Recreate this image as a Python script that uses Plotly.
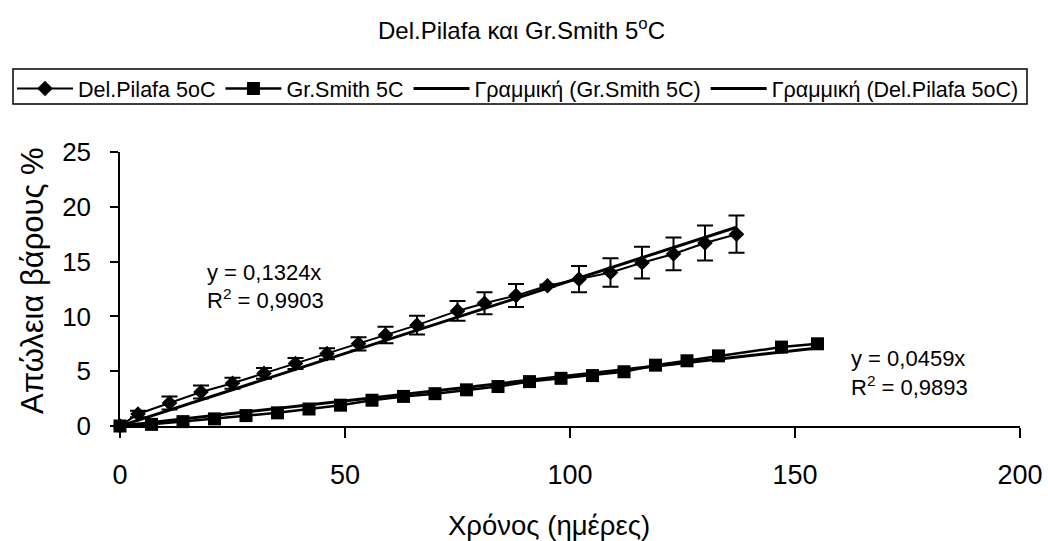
import plotly.graph_objects as go

# Weight loss (%) over storage time (days) at 5 °C
pilafa_days = [0, 4, 11, 18, 25, 32, 39, 46, 53, 59, 66, 75, 81, 88, 95, 102, 109, 116, 123, 130, 137]
pilafa_loss = [0, 1.1, 2.1, 3.1, 3.9, 4.8, 5.7, 6.6, 7.5, 8.3, 9.2, 10.5, 11.2, 11.9, 12.8, 13.4,
               14.0, 14.9, 15.7, 16.7, 17.5]
pilafa_err = [0, 0.3, 0.6, 0.6, 0.5, 0.5, 0.5, 0.5, 0.6, 0.75, 0.85, 0.9, 1.0, 1.05, 0.1, 1.2,
              1.3, 1.45, 1.5, 1.6, 1.7]

smith_days = [0, 7, 14, 21, 28, 35, 42, 49, 56, 63, 70, 77, 84, 91, 98, 105, 112, 119, 126, 133, 147, 155]
smith_loss = [0, 0.15, 0.4, 0.65, 0.95, 1.2, 1.55, 1.9, 2.35, 2.7, 2.95, 3.3, 3.6, 4.05, 4.35, 4.6,
              4.95, 5.55, 5.95, 6.4, 7.2, 7.5]

# Linear trendlines forced through the origin
pilafa_slope, pilafa_r2 = 0.1324, 0.9903
smith_slope, smith_r2 = 0.0459, 0.9893

x_ticks = [0, 50, 100, 150, 200]
y_ticks = [0, 5, 10, 15, 20, 25]

FONT = "Liberation Sans, Arial, sans-serif"
W, H = 1048, 541
L, R, T, B = 120, 28, 152, 115
PW, PH = W - L - R, H - T - B


def px(xp):
    return (xp - L) / PW


def py(yp):
    return (H - B - yp) / PH


def comma(v, nd=4):
    return f"{v:.{nd}f}".replace(".", ",")


fig = go.Figure()

fig.add_trace(go.Scatter(
    x=pilafa_days, y=pilafa_loss, name="Del.Pilafa 5oC", mode="lines+markers",
    line=dict(color="black", width=2),
    marker=dict(symbol="diamond", size=12, color="black"),
    error_y=dict(type="data", array=pilafa_err, visible=True, color="black", thickness=2, width=8),
    cliponaxis=False,
))
fig.add_trace(go.Scatter(
    x=smith_days, y=smith_loss, name="Gr.Smith 5C", mode="lines+markers",
    line=dict(color="black", width=2.5),
    marker=dict(symbol="square", size=13, color="black"),
    cliponaxis=False,
))

smith_fit_x = [0, max(smith_days)]
fig.add_trace(go.Scatter(
    x=smith_fit_x, y=[smith_slope * v for v in smith_fit_x], name="Γραμμική (Gr.Smith 5C)",
    mode="lines", line=dict(color="black", width=3), cliponaxis=False,
))
pilafa_fit_x = [0, max(pilafa_days)]
fig.add_trace(go.Scatter(
    x=pilafa_fit_x, y=[pilafa_slope * v for v in pilafa_fit_x], name="Γραμμική (Del.Pilafa 5oC)",
    mode="lines", line=dict(color="black", width=3), cliponaxis=False,
))

annotations = [
    dict(text="Del.Pilafa και Gr.Smith 5<sup>o</sup>C", x=px(521), y=py(29), xref="paper", yref="paper",
         xanchor="center", yanchor="middle", showarrow=False, font=dict(size=24)),
    dict(text="Απώλεια βάρους %", x=px(32), y=py(281), xref="paper", yref="paper", textangle=-90,
         xanchor="center", yanchor="middle", showarrow=False, font=dict(size=31)),
    dict(text="Χρόνος (ημέρες)", x=px(549), y=py(525), xref="paper", yref="paper",
         xanchor="center", yanchor="middle", showarrow=False, font=dict(size=27.5)),
    dict(text=f"y = {comma(pilafa_slope)}x", x=px(205), y=py(272), xref="paper", yref="paper",
         xanchor="left", yanchor="middle", showarrow=False, font=dict(size=22)),
    dict(text=f"R<sup>2</sup> = {comma(pilafa_r2)}", x=px(205), y=py(299), xref="paper", yref="paper",
         xanchor="left", yanchor="middle", showarrow=False, font=dict(size=22)),
    dict(text=f"y = {comma(smith_slope)}x", x=px(849), y=py(358), xref="paper", yref="paper",
         xanchor="left", yanchor="middle", showarrow=False, font=dict(size=22)),
    dict(text=f"R<sup>2</sup> = {comma(smith_r2)}", x=px(849), y=py(386), xref="paper", yref="paper",
         xanchor="left", yanchor="middle", showarrow=False, font=dict(size=22)),
]

fig.update_layout(
    width=W, height=H,
    margin=dict(l=L, r=R, t=T, b=B, autoexpand=False),
    paper_bgcolor="white", plot_bgcolor="white",
    font=dict(family=FONT, color="black"),
    showlegend=True,
    legend=dict(
        orientation="h", x=px(12), y=py(68), xanchor="left", yanchor="top",
        font=dict(size=21.5), bgcolor="rgba(0,0,0,0)", borderwidth=0,
        itemwidth=56, tracegroupgap=0,
    ),
    annotations=annotations,
    shapes=[dict(type="rect", xref="paper", yref="paper",
                 x0=px(13), x1=px(1027), y0=py(104), y1=py(69),
                 line=dict(color="black", width=1.5))],
    xaxis=dict(
        range=[0, 200], tickvals=x_ticks, ticks="outside", ticklen=10, tickwidth=1.5,
        tickcolor="black", showline=True, linecolor="black", linewidth=1.5,
        showgrid=False, zeroline=False, tickfont=dict(size=27), ticklabelstandoff=14,
    ),
    yaxis=dict(
        range=[0, 25], tickvals=y_ticks, ticks="outside", ticklen=8, tickwidth=1.5,
        tickcolor="black", showline=True, linecolor="black", linewidth=1.5,
        showgrid=False, zeroline=False, tickfont=dict(size=26), ticklabelstandoff=14,
    ),
)

fig.write_html("out.html")
